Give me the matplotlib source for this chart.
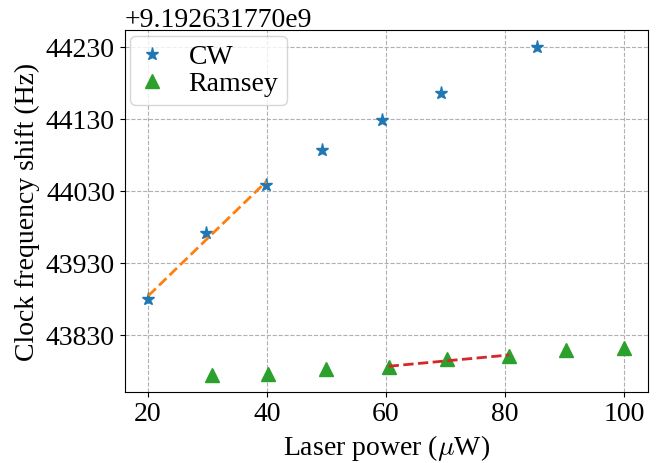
import numpy as np
import matplotlib
matplotlib.use('Agg')
import matplotlib.pyplot as plt
from matplotlib.ticker import ScalarFormatter

plt.rcParams['font.family'] = 'serif'
plt.rcParams['font.serif'] = ['Liberation Serif', 'DejaVu Serif']
plt.rcParams['mathtext.fontset'] = 'cm'

# Cs clock frequency (Hz), used as the y-axis offset
f0 = 9192631770

# CW measurements: laser power (uW) and shift relative to f0 (Hz)
cw_power = [20.1, 29.85, 39.9, 49.3, 59.4, 69.3, 85.4]
cw_shift = [43879.4, 43971.4, 44038.0, 44086.7, 44128.0, 44164.9, 44230.1]

# Ramsey measurements
ramsey_power = [30.76, 40.27, 49.9, 60.47, 70.3, 80.72, 90.35, 100.1]
ramsey_shift = [43773.6, 43775.9, 43781.9, 43784.6, 43796.6, 43800.3, 43808.0, 43810.8]

cw_power = np.array(cw_power)
cw_freq = f0 + np.array(cw_shift)
ramsey_power = np.array(ramsey_power)
ramsey_freq = f0 + np.array(ramsey_shift)


class OffsetFormatter(ScalarFormatter):
    # keep all nine decimals of the offset, as in the original plot
    def get_offset(self):
        return '+%.9fe9' % (self.offset / 1e9)


fig = plt.figure(figsize=(6.7, 4.64), dpi=100)
ax = fig.add_axes([0.186, 0.1537, 0.7816, 0.7793])

ax.plot(cw_power, cw_freq, '*', color='C0', markersize=9.5, label='CW')
ax.plot(ramsey_power, ramsey_freq, '^', color='C2', markersize=9.5, label='Ramsey')

# linear fits over the low-power CW points and mid-power Ramsey points
p = np.polyfit(cw_power[:3], cw_freq[:3] - f0, 1)
xs = cw_power[[0, 2]]
ax.plot(xs, f0 + np.polyval(p, xs), '--', color='C1', linewidth=2)

p = np.polyfit(ramsey_power[3:6], ramsey_freq[3:6] - f0, 1)
xs = ramsey_power[[3, 5]]
ax.plot(xs, f0 + np.polyval(p, xs), '--', color='C3', linewidth=2)

ax.yaxis.set_major_formatter(OffsetFormatter(useOffset=f0))
ax.set_yticks(f0 + np.arange(43830, 44231, 100))
ax.grid(True, linestyle='--', color='#b0b0b0')
ax.tick_params(labelsize=20)
ax.yaxis.get_offset_text().set_fontsize(20)

ax.set_xlabel(r'Laser power ($\mu$W)', fontsize=20)
ax.set_ylabel('Clock frequency shift (Hz)', fontsize=20)
ax.legend(loc='upper left', fontsize=20, borderaxespad=0.2, borderpad=0.3,
          labelspacing=0.05, handlelength=1.0, handletextpad=0.8)

plt.savefig('out.png', dpi=100)
